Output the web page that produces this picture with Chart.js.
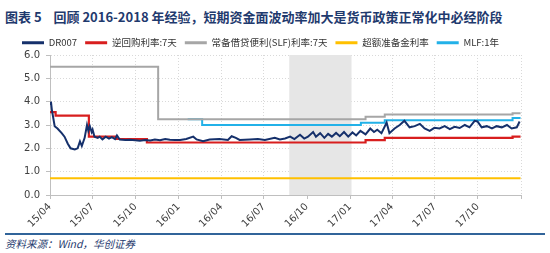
<!DOCTYPE html>
<html>
<head>
<meta charset="utf-8">
<script src="https://cdn.jsdelivr.net/npm/chart.js@4.4.0/dist/chart.umd.min.js"></script>
<style>
  body { margin: 0; width: 550px; height: 253px; background: #fff; position: relative; overflow: hidden; font-family: "Noto Sans CJK SC", sans-serif; }
  #title { position: absolute; left: 5px; top: 7px; font-size: 13px; font-weight: bold; color: #1f3a6e; white-space: nowrap; }
  #wrap { position: absolute; left: 0; top: 30px; width: 550px; height: 200px; }
  #rule { position: absolute; left: 5px; top: 233px; width: 540px; height: 2px; background: #31649a; }
  #source { position: absolute; left: 5px; top: 236px; font-size: 10.5px; font-style: italic; color: #1f3a6e; }
</style>
</head>
<body>
<div id="title">图表 5&nbsp;&nbsp;&nbsp;&nbsp;回顾 2016-2018 年经验，短期资金面波动率加大是货币政策正常化中必经阶段</div>
<div id="wrap"><canvas id="chart"></canvas></div>
<div id="rule"></div>
<div id="source">资料来源：Wind，华创证券</div>
<script>
// Series
const dr007Dates = [
  '2015-04-01','2015-04-03','2015-04-05','2015-04-11','2015-04-17','2015-04-26','2015-05-02','2015-05-09',
  '2015-05-15','2015-05-24','2015-05-30','2015-06-04','2015-06-08','2015-06-14','2015-06-19','2015-06-22',
  '2015-06-25','2015-06-29','2015-07-01','2015-07-05','2015-07-12','2015-07-16','2015-07-22','2015-07-29',
  '2015-08-05','2015-08-11','2015-08-18','2015-08-22','2015-08-28','2015-09-09','2015-09-19','2015-09-30',
  '2015-10-10','2015-10-21','2015-11-01','2015-11-11','2015-11-22','2015-12-03','2015-12-13','2015-12-24',
  '2016-01-04','2016-01-17','2016-02-01','2016-02-08','2016-02-22','2016-03-07','2016-03-28','2016-04-15',
  '2016-04-23','2016-05-02','2016-05-10','2016-06-01','2016-06-18','2016-07-03','2016-07-24','2016-08-04',
  '2016-08-15','2016-08-26','2016-09-04','2016-09-16','2016-09-25','2016-10-03','2016-10-14','2016-10-20',
  '2016-10-29','2016-11-07','2016-11-15','2016-11-23','2016-12-02','2016-12-10','2016-12-19','2016-12-28',
  '2017-01-06','2017-01-14','2017-01-23','2017-02-03','2017-02-13','2017-02-21','2017-02-28','2017-03-09',
  '2017-03-20','2017-03-26','2017-04-06','2017-04-17','2017-04-27','2017-05-08','2017-05-19','2017-05-30',
  '2017-06-09','2017-06-20','2017-06-30','2017-07-11','2017-07-22','2017-08-02','2017-08-12','2017-08-23',
  '2017-09-03','2017-09-13','2017-09-24','2017-09-30','2017-10-09','2017-10-20','2017-10-31','2017-11-10',
  '2017-11-21','2017-12-02','2017-12-12','2017-12-23','2017-12-29'
];
const dr007Values = [
  3.9, 4.0, 3.65, 2.95, 2.85, 2.65, 2.5, 2.2,
  2.0, 1.95, 2.0, 2.3, 2.1, 2.45, 3.0, 2.75,
  2.95, 2.7, 2.8, 2.5, 2.45, 2.5, 2.38, 2.5,
  2.42, 2.48, 2.4, 2.55, 2.38, 2.36, 2.37, 2.35,
  2.33, 2.36, 2.34, 2.38, 2.35, 2.4, 2.37, 2.36,
  2.36, 2.4, 2.5, 2.38, 2.3, 2.38, 2.4, 2.36,
  2.52, 2.45, 2.36, 2.38, 2.4, 2.36, 2.45, 2.38,
  2.42, 2.5, 2.4, 2.58, 2.42, 2.5, 2.7, 2.5,
  2.65, 2.45, 2.62, 2.5, 2.66, 2.52, 2.7, 2.5,
  2.68, 2.55, 2.75, 2.6, 2.85, 2.7, 2.8, 2.65,
  3.1, 2.65, 2.85, 3.0, 3.18, 2.9, 2.95, 3.05,
  2.85, 2.75, 2.88, 2.85, 2.95, 2.82, 2.92, 2.87,
  3.0, 2.9, 3.18, 3.15, 2.9, 2.95, 2.85, 2.95,
  2.9, 3.0, 2.85, 2.9, 3.15
];

// policy rates: value holds from its date to the next one
const repoDates = ['2015-04-01','2015-04-13','2015-06-23','2015-08-21','2015-10-25','2017-02-03','2017-03-16','2017-12-14','2017-12-31'];
const repoValues = [3.55, 3.4, 2.5, 2.4, 2.25, 2.35, 2.45, 2.5, 2.5];

const slfDates = ['2015-04-01','2015-11-18','2017-02-03','2017-03-16','2017-12-14','2017-12-31'];
const slfValues = [5.5, 3.25, 3.35, 3.45, 3.5, 3.5];

const ierDates = ['2015-04-01','2017-12-31'];
const ierValues = [0.72, 0.72];

const mlfDates = ['2016-01-20','2016-02-20','2017-01-24','2017-03-16','2017-12-14','2017-12-31'];
const mlfValues = [3.25, 3.0, 3.1, 3.2, 3.3, 3.3];

const xTickDates = ['2015-04-01','2015-07-01','2015-10-01','2016-01-01','2016-04-01','2016-07-01',
  '2016-10-01','2017-01-01','2017-04-01','2017-07-01','2017-10-01','2018-01-01'];
const xTickLabels = ['15/04','15/07','15/10','16/01','16/04','16/07','16/10','17/01','17/04','17/07','17/10',''];

const shadeStart = '2016-08-24';
const shadeEnd = '2017-01-04';

const DAY = 86400000;
const ORIGIN = Date.UTC(2015, 3, 1);
function dayOf(s) {
  const p = s.split('-').map(Number);
  return (Date.UTC(p[0], p[1] - 1, p[2]) - ORIGIN) / DAY;
}
function zip(dates, values) {
  return dates.map((d, i) => ({ x: dayOf(d), y: values[i] }));
}

const shadePlugin = {
  id: 'shade',
  beforeDatasetsDraw(chart) {
    const { ctx, chartArea, scales } = chart;
    const x0 = scales.x.getPixelForValue(dayOf(shadeStart));
    const x1 = scales.x.getPixelForValue(dayOf(shadeEnd));
    ctx.save();
    ctx.fillStyle = '#e6e6e6';
    ctx.fillRect(x0, chartArea.top, x1 - x0, chartArea.bottom - chartArea.top);
    ctx.restore();
  }
};

// keep legend on one row and fix its height
const legendHeight = {
  id: 'legendHeight',
  beforeInit(chart) {
    if (!chart.legend) return;
    const fit = chart.legend.fit;
    chart.legend.fit = function () {
      this.maxWidth = 600;
      fit.call(this);
      this.width = 550;
      this.height = 25;
    };
  }
};

const tickFont = { family: '"DejaVu Sans", sans-serif', size: 10 };

new Chart(document.getElementById('chart'), {
  type: 'line',
  data: {
    datasets: [
      { label: 'DR007', data: zip(dr007Dates, dr007Values), borderColor: '#15306b', backgroundColor: '#15306b', borderWidth: 2 },
      { label: '逆回购利率:7天', data: zip(repoDates, repoValues), borderColor: '#d81e1e', backgroundColor: '#d81e1e', borderWidth: 2.2, stepped: true },
      { label: '常备借贷便利(SLF)利率:7天', data: zip(slfDates, slfValues), borderColor: '#a6a6a6', backgroundColor: '#a6a6a6', borderWidth: 2, stepped: true },
      { label: '超额准备金利率', data: zip(ierDates, ierValues), borderColor: '#ffc000', backgroundColor: '#ffc000', borderWidth: 2 },
      { label: 'MLF:1年', data: zip(mlfDates, mlfValues), borderColor: '#22b1e8', backgroundColor: '#22b1e8', borderWidth: 2, stepped: true }
    ]
  },
  options: {
    responsive: true,
    maintainAspectRatio: false,
    animation: false,
    layout: { padding: { left: 0, right: 29, top: 0, bottom: 0 } },
    elements: { point: { radius: 0 }, line: { tension: 0 } },
    plugins: {
      tooltip: { enabled: false },
      legend: {
        position: 'top',
        labels: {
          boxWidth: 22,
          boxHeight: 3,
          padding: 8,
          color: '#333',
          font: { family: '"Noto Sans CJK SC", sans-serif', size: 9.5 },
          generateLabels(chart) {
            const items = Chart.defaults.plugins.legend.labels.generateLabels(chart);
            items.forEach(it => { it.lineWidth = 0; });
            return items;
          }
        }
      }
    },
    scales: {
      x: {
        type: 'linear',
        min: 0,
        max: dayOf('2018-01-01'),
        afterBuildTicks(scale) {
          scale.ticks = xTickDates.map(d => ({ value: dayOf(d) }));
        },
        afterFit(scale) { scale.height = 35; },
        ticks: {
          autoSkip: false,
          maxRotation: 45,
          minRotation: 45,
          color: '#404040',
          font: tickFont,
          padding: 2,
          callback: (v, i) => xTickLabels[i]
        },
        grid: { color: '#d9d9d9', tickLength: 4, tickColor: '#bfbfbf' },
        border: { display: true, color: '#bfbfbf', width: 1, dash: [1, 2] }
      },
      y: {
        min: 0,
        max: 6,
        afterFit(scale) { scale.width = 50; },
        ticks: {
          stepSize: 1,
          color: '#404040',
          font: tickFont,
          padding: 6,
          callback: v => v.toFixed(1)
        },
        grid: { color: '#d9d9d9', tickLength: 4, tickColor: '#bfbfbf' },
        border: { display: true, color: '#bfbfbf', width: 1, dash: [1, 2] }
      }
    }
  },
  plugins: [shadePlugin, legendHeight]
});
</script>
</body>
</html>
